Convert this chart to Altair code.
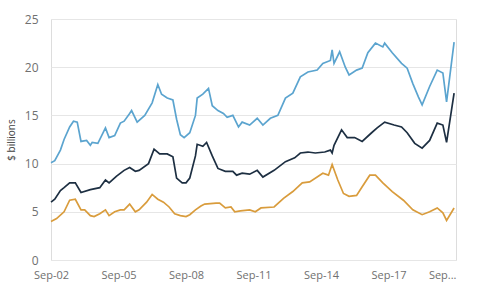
import altair as alt
import pandas as pd

# Top series (light blue)
top_dates = ["2002-09", "2002-11", "2003-02", "2003-04", "2003-07", "2003-09", "2003-11", "2004-01",
             "2004-04", "2004-06", "2004-07", "2004-10", "2005-02", "2005-04", "2005-07", "2005-10",
             "2005-12", "2006-03", "2006-04", "2006-07", "2006-11", "2007-03", "2007-06", "2007-08",
             "2007-11", "2008-02", "2008-04", "2008-06", "2008-08", "2008-11", "2009-02", "2009-03",
             "2009-06", "2009-09", "2009-11", "2010-02", "2010-05", "2010-07", "2010-10", "2011-01",
             "2011-03", "2011-07", "2011-11", "2012-02", "2012-06", "2012-10", "2013-02", "2013-06",
             "2013-10", "2014-02", "2014-07", "2014-10", "2015-02", "2015-03", "2015-04", "2015-07",
             "2015-10", "2015-12", "2016-04", "2016-07", "2016-10", "2017-02", "2017-06", "2017-07",
             "2017-11", "2018-04", "2018-07", "2018-10", "2019-01", "2019-03", "2019-07", "2019-11",
             "2020-02", "2020-04", "2020-08"]
top_values = [10.1, 10.3, 11.4, 12.5, 13.8, 14.4, 14.3, 12.3,
              12.4, 11.9, 12.2, 12.1, 13.7, 12.7, 12.9, 14.2,
              14.4, 15.2, 15.5, 14.3, 15.0, 16.3, 18.2, 17.2,
              16.8, 16.6, 14.6, 13.0, 12.7, 13.2, 15.0, 16.8,
              17.2, 17.8, 16.0, 15.5, 15.2, 14.8, 15.0, 13.8,
              14.3, 14.0, 14.7, 14.0, 14.7, 15.0, 16.8, 17.3,
              19.0, 19.5, 19.7, 20.4, 20.7, 21.8, 20.4, 21.6,
              20.0, 19.2, 19.7, 19.9, 21.5, 22.5, 22.1, 22.5,
              21.5, 20.4, 19.9, 18.3, 16.9, 16.1, 18.0, 19.7,
              19.4, 16.4, 22.6]

# Middle series (dark navy)
mid_dates = ["2002-09", "2002-11", "2003-02", "2003-04", "2003-07", "2003-10", "2004-01", "2004-06",
             "2004-11", "2005-02", "2005-04", "2005-08", "2005-12", "2006-03", "2006-06", "2006-08",
             "2007-01", "2007-04", "2007-07", "2007-11", "2008-02", "2008-04", "2008-07", "2008-09",
             "2008-11", "2009-02", "2009-03", "2009-06", "2009-08", "2009-11", "2010-02", "2010-06",
             "2010-10", "2010-12", "2011-03", "2011-07", "2011-11", "2012-02", "2012-08", "2013-02",
             "2013-07", "2013-10", "2014-02", "2014-06", "2014-11", "2015-02", "2015-03", "2015-04",
             "2015-08", "2015-11", "2016-03", "2016-07", "2016-12", "2017-03", "2017-07", "2017-12",
             "2018-04", "2018-07", "2018-11", "2019-03", "2019-07", "2019-11", "2020-02", "2020-04",
             "2020-08"]
mid_values = [6.0, 6.3, 7.2, 7.5, 8.0, 8.0, 7.0, 7.3,
              7.5, 8.3, 8.0, 8.7, 9.3, 9.6, 9.2, 9.3,
              10.0, 11.5, 11.0, 11.0, 10.7, 8.5, 8.0, 8.0,
              8.5, 10.8, 12.0, 11.8, 12.2, 10.8, 9.5, 9.2,
              9.2, 8.8, 9.0, 8.9, 9.3, 8.6, 9.3, 10.2,
              10.6, 11.1, 11.2, 11.1, 11.2, 11.4, 11.1, 11.9,
              13.5, 12.7, 12.7, 12.3, 13.2, 13.7, 14.3, 14.0,
              13.8, 13.2, 12.1, 11.6, 12.4, 14.2, 14.0, 12.2,
              17.3]

# Bottom series (orange)
low_dates = ["2002-09", "2002-12", "2003-04", "2003-07", "2003-10", "2004-01", "2004-03", "2004-06",
             "2004-08", "2004-11", "2005-02", "2005-04", "2005-07", "2005-10", "2005-12", "2006-03",
             "2006-06", "2006-08", "2006-12", "2007-03", "2007-06", "2007-09", "2007-12", "2008-03",
             "2008-06", "2008-09", "2008-11", "2009-02", "2009-05", "2009-07", "2010-01", "2010-03",
             "2010-06", "2010-09", "2010-11", "2011-02", "2011-07", "2011-10", "2012-01", "2012-08",
             "2013-01", "2013-06", "2013-11", "2014-03", "2014-10", "2015-01", "2015-03", "2015-06",
             "2015-09", "2015-12", "2016-04", "2016-07", "2016-11", "2017-02", "2017-06", "2017-11",
             "2018-05", "2018-10", "2019-03", "2019-07", "2019-11", "2020-02", "2020-04", "2020-08"]
low_values = [4.0, 4.3, 5.0, 6.2, 6.3, 5.2, 5.2, 4.6,
              4.5, 4.8, 5.2, 4.6, 5.0, 5.2, 5.2, 5.8,
              5.0, 5.2, 6.0, 6.8, 6.3, 6.0, 5.5, 4.8,
              4.6, 4.5, 4.7, 5.2, 5.6, 5.8, 5.9, 5.9,
              5.4, 5.5, 5.0, 5.1, 5.2, 5.0, 5.4, 5.5,
              6.4, 7.1, 8.0, 8.1, 9.0, 8.8, 9.9, 8.3,
              6.9, 6.6, 6.7, 7.6, 8.8, 8.8, 8.0, 7.1,
              6.2, 5.2, 4.7, 5.0, 5.4, 4.9, 4.1, 5.4]

series_names = ["top", "mid", "low"]
series_colors = ["#5ba4cf", "#1d2f42", "#d99c3c"]

frames = []
for name, d, v in [("top", top_dates, top_values), ("mid", mid_dates, mid_values), ("low", low_dates, low_values)]:
    frames.append(pd.DataFrame({"series": name, "date": [x + "-01" for x in d], "value": v}))
df = pd.concat(frames, ignore_index=True)

tick_years = [2002, 2005, 2008, 2011, 2014, 2017, 2020]
tick_vals = [alt.DateTime(year=y, month=9, date=1, utc=True) for y in tick_years]

font = "Open Sans"

chart = alt.Chart(df).mark_line(strokeWidth=1.7).encode(
    x=alt.X("date:T",
            scale=alt.Scale(type="utc",
                            domain=[alt.DateTime(year=2002, month=9, date=1, utc=True),
                                    alt.DateTime(year=2020, month=9, date=1, utc=True)]),
            axis=alt.Axis(title=None, values=tick_vals, grid=False, ticks=False, domain=False,
                          labelExpr="utcyear(datum.value) == 2020 ? 'Sep...' : utcFormat(datum.value, '%b-%y')",
                          labelAlign={"condition": {"test": "utcyear(datum.value) == 2020", "value": "right"},
                                      "value": "center"},
                          labelFontSize=11, labelColor="#707070", labelPadding=9, labelFont=font)),
    y=alt.Y("value:Q",
            scale=alt.Scale(domain=[0, 25], nice=False),
            axis=alt.Axis(title="$ billions", values=[0, 5, 10, 15, 20, 25], ticks=False, domain=False,
                          gridColor="#e6e6e6", gridWidth=1,
                          labelFontSize=12, labelColor="#707070", labelPadding=13, labelFont=font,
                          titleFontSize=10, titleFontWeight="normal", titleColor="#404040",
                          titleFont=font, titlePadding=8)),
    color=alt.Color("series:N", scale=alt.Scale(domain=series_names, range=series_colors), legend=None),
    detail="series:N",
).properties(
    width=405, height=241,
    autosize=alt.AutoSizeParams(type="none"),
    padding={"left": 51, "top": 19, "right": 44, "bottom": 40},
).configure_view(stroke=None).configure(background="white")

chart.save("out.html", embed_options={"renderer": "svg", "actions": False})
